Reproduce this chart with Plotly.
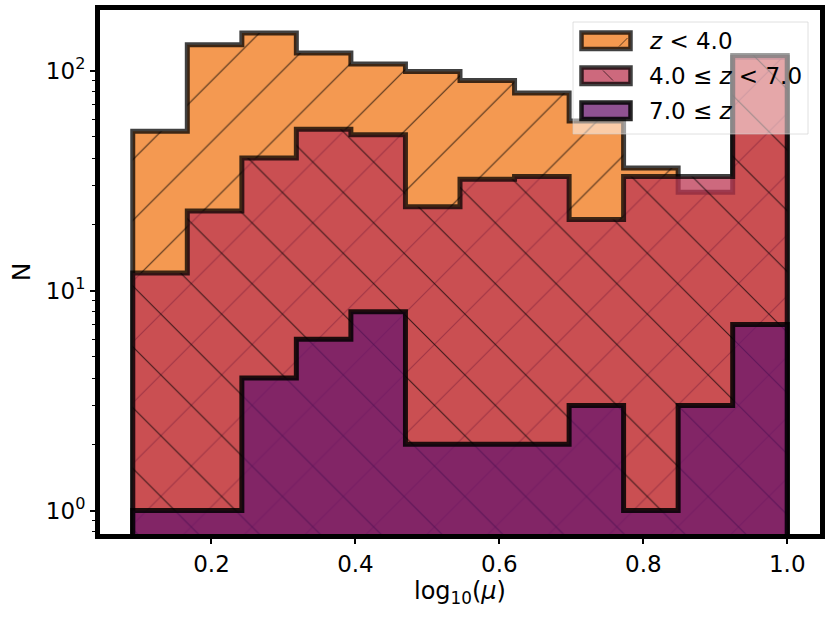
import plotly.graph_objects as go

# histogram bins in log10(mu) and counts per redshift slice
bin_edges = [0.0906, 0.1664, 0.2422, 0.3179, 0.3937, 0.4695, 0.5453,
             0.6211, 0.6969, 0.7726, 0.8484, 0.9242, 1.0]
n_low_z = [53, 131, 148, 120, 107, 99, 90, 79, 59, 36, 28, 115]    # z < 4
n_mid_z = [12, 23, 40, 54, 51, 24, 32, 33, 21, 33, 33, 117]        # 4 <= z < 7
n_high_z = [1, 1, 4, 6, 8, 2, 2, 2, 3, 1, 3, 7]                    # 7 <= z
labels = ['<i>z</i> &lt; 4.0', '4.0 ≤ <i>z</i> &lt; 7.0', '7.0 ≤ <i>z</i>']

FLOOR = 1e-3  # below the log axis, so the steps close off-screen
FONT = 'DejaVu Sans'

series = [
    dict(n=n_low_z, fill='rgba(240,119,22,0.75)', hatch='/', edge='rgba(0,0,0,0.75)'),
    dict(n=n_mid_z, fill='rgba(188,55,82,0.75)', hatch='\\', edge='rgba(0,0,0,0.75)'),
    dict(n=n_high_z, fill='rgba(106,23,110,0.75)', hatch='', edge='rgba(0,0,0,0.85)'),
]


def step_xy(edges, counts):
    xs = [edges[0]] + list(edges[:-1]) + [edges[-1], edges[-1]]
    ys = [FLOOR] + list(counts) + [counts[-1], FLOOR]
    return xs, ys


fig = go.Figure()
for s in series:
    xs, ys = step_xy(bin_edges, s['n'])
    pattern = dict(shape=s['hatch'], fgcolor='black', fgopacity=0.7,
                   bgcolor=s['fill'], size=43, solidity=0.025)
    fig.add_trace(go.Scatter(
        x=xs, y=ys, mode='lines', line_shape='hv',
        line=dict(color=s['edge'], width=5),
        fill='toself', fillcolor=s['fill'], fillpattern=pattern,
        showlegend=False, hoverinfo='skip',
    ))

# plot area in pixels (used to place the hand-made legend)
L, R, T, B = 100, 820, 10, 534


def px(x):
    return (x - L) / (R - L)


def py(y):
    return (B - y) / (B - T)


shapes = [dict(type='rect', xref='paper', yref='paper',
               x0=px(573), x1=px(808), y0=py(22), y1=py(134),
               fillcolor='rgba(255,255,255,0.5)',
               line=dict(color='rgba(204,204,204,0.6)', width=1))]
annotations = []
rows = [(32.5, 49), (67.5, 84), (102.5, 119)]
for s, lab, (y0, y1) in zip(series, labels, rows):
    shapes.append(dict(type='rect', xref='paper', yref='paper',
                       x0=px(581.5), x1=px(630.5), y0=py(y0), y1=py(y1),
                       fillcolor=s['fill'], line=dict(color=s['edge'], width=4.5)))
    annotations.append(dict(xref='paper', yref='paper', x=px(647), y=py((y0 + y1) / 2),
                            xanchor='left', yanchor='middle', showarrow=False,
                            text=lab, font=dict(family=FONT, size=23, color='black')))
# single hatch strokes inside the legend patches
shapes.append(dict(type='line', xref='paper', yref='paper',
                   x0=px(619), y0=py(46.5), x1=px(627.5), y1=py(38),
                   line=dict(color='rgba(0,0,0,0.6)', width=1)))
shapes.append(dict(type='line', xref='paper', yref='paper',
                   x0=px(603), y0=py(70.5), x1=px(613), y1=py(80.5),
                   line=dict(color='rgba(0,0,0,0.6)', width=1)))

minor_vals = [m * 10 ** k for k in (-1, 0, 1) for m in range(2, 10)]

axis_common = dict(showline=True, linewidth=5, linecolor='black', mirror=True,
                   showgrid=False, zeroline=False, ticks='outside',
                   ticklen=5, tickwidth=1.5, tickcolor='black', automargin=False,
                   tickfont=dict(family=FONT, size=23, color='black'))

fig.update_layout(
    width=830, height=618,
    margin=dict(l=L, r=830 - R, t=T, b=618 - B),
    paper_bgcolor='white', plot_bgcolor='white',
    font=dict(family=FONT, color='black'),
    shapes=shapes, annotations=annotations,
    xaxis=dict(range=[0.0451, 1.0455], tickvals=[0.2, 0.4, 0.6, 0.8, 1.0],
               tickformat='.1f',
               title=dict(text='log<sub>10</sub>(<i>μ</i>)', standoff=8,
                          font=dict(family=FONT, size=24, color='black')),
               **axis_common),
    yaxis=dict(type='log', range=[-0.1068, 2.275], tickvals=[1, 10, 100],
               ticktext=['10<sup>0</sup>', '10<sup>1</sup>', '10<sup>2</sup>'],
               minor=dict(tickmode='array', tickvals=minor_vals, ticks='outside',
                          ticklen=3, tickwidth=1, tickcolor='black'),
               title=dict(text='N', standoff=10,
                          font=dict(family=FONT, size=25, color='black')),
               **axis_common),
)

# the page's default body margin would shift the figure by 8px
fig.write_html('out.html', config={'displayModeBar': False},
               post_script="document.body.style.margin='0px';")
